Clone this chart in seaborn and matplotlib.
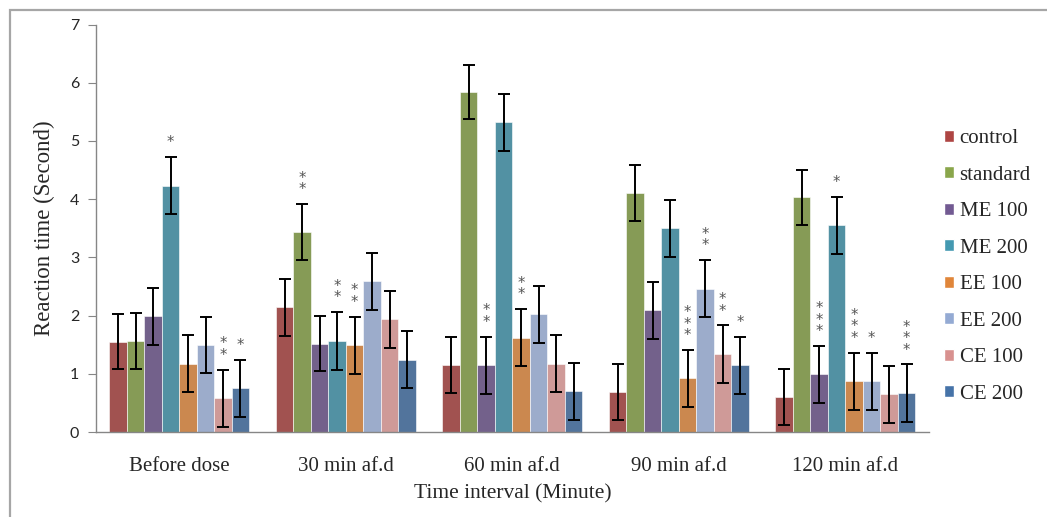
import numpy as np
import pandas as pd
import matplotlib
matplotlib.use("Agg")
import matplotlib.pyplot as plt
from matplotlib.patches import Patch, Rectangle
import seaborn as sns

# data
times = ["Before dose", "30 min af.d", "60 min af.d", "90 min af.d", "120 min af.d"]
groups = ["control", "standard", "ME 100", "ME 200", "EE 100", "EE 200", "CE 100", "CE 200"]

control = [1.55, 2.14, 1.15, 0.68, 0.60]
standard = [1.57, 3.43, 5.84, 4.10, 4.03]
me100 = [1.99, 1.52, 1.15, 2.09, 0.99]
me200 = [4.23, 1.56, 5.32, 3.50, 3.55]
ee100 = [1.17, 1.49, 1.62, 0.92, 0.87]
ee200 = [1.50, 2.59, 2.02, 2.46, 0.87]
ce100 = [0.58, 1.94, 1.17, 1.34, 0.65]
ce200 = [0.75, 1.24, 0.70, 1.15, 0.67]

# standard error (same for every bar, ~0.48 s)
sem = [
    [0.47, 0.49, 0.48, 0.48, 0.48],
    [0.48, 0.48, 0.46, 0.48, 0.47],
    [0.49, 0.48, 0.49, 0.49, 0.49],
    [0.49, 0.50, 0.49, 0.49, 0.49],
    [0.49, 0.49, 0.49, 0.49, 0.49],
    [0.48, 0.49, 0.49, 0.49, 0.49],
    [0.49, 0.49, 0.49, 0.49, 0.49],
    [0.49, 0.49, 0.49, 0.49, 0.49],
]

# significance marks per group, per time point
stars = [
    ["", "", "", "", ""],
    ["", "**", "", "", ""],
    ["", "", "**", "", "***"],
    ["*", "**", "", "", "*"],
    ["", "**", "**", "***", "***"],
    ["", "", "", "**", "*"],
    ["**", "", "", "**", ""],
    ["*", "", "", "*", "***"],
]

colors = ["#AE4543", "#8AA64B", "#725A92", "#4499B1", "#E0863A",
          "#94AAD3", "#D8918F", "#4673A8"]

series = [control, standard, me100, me200, ee100, ee200, ce100, ce200]
df = pd.DataFrame({
    "time": np.tile(times, len(groups)),
    "group": np.repeat(groups, len(times)),
    "value": np.concatenate(series),
})

sns.set_style("white")
plt.rcParams["font.family"] = ["Liberation Serif", "DejaVu Serif"]

fig = plt.figure(figsize=(10.47, 5.17), dpi=100)
ax = fig.add_axes([0.0917, 0.1644, 0.7953, 0.7882])

sns.barplot(data=df, x="time", y="value", hue="group", order=times,
            hue_order=groups, palette=colors, width=0.84, errorbar=None,
            edgecolor="white", linewidth=0.4, legend=False, ax=ax)

bar_sets = list(ax.containers)
for i, cont in enumerate(bar_sets):
    xs = [b.get_x() + b.get_width() / 2 for b in cont]
    hs = [b.get_height() for b in cont]
    ax.errorbar(xs, hs, yerr=sem[i], fmt="none", ecolor="black",
                elinewidth=1.4, capsize=4, capthick=1.4, zorder=5)
    for j, s in enumerate(stars[i]):
        if not s:
            continue
        top = hs[j] + sem[i][j]
        ax.annotate("\n".join(s), xy=(xs[j], top), xytext=(0, 5),
                    textcoords="offset points", ha="center", va="bottom",
                    fontsize=10.5, color="#555555", linespacing=0.7,
                    family="DejaVu Sans")

ax.set_ylim(0, 7)
ax.set_xlim(-0.5, 4.5)
ax.set_yticks(range(8))
ax.set_yticklabels([str(v) for v in range(8)], family="Lato", fontsize=11.5)
ax.set_xticks(range(len(times)))
ax.set_xticklabels(times, fontsize=15)
ax.set_xticks(np.arange(-0.5, 5, 1), minor=True)
ax.tick_params(axis="x", which="major", length=0, pad=18)
ax.tick_params(axis="x", which="minor", length=5, color="#868686", direction="out")
ax.tick_params(axis="y", length=6, color="#868686", direction="out", pad=6, left=True)

for side in ["top", "right"]:
    ax.spines[side].set_visible(False)
for side in ["left", "bottom"]:
    ax.spines[side].set_color("#868686")
    ax.spines[side].set_linewidth(1.0)

ax.set_xlabel("Time interval (Minute)", fontsize=15.5, labelpad=6)
ax.set_ylabel("Reaction time (Second)", fontsize=16.5, labelpad=11)

handles = [Patch(facecolor=c) for c in colors]
fig.legend(handles, groups, loc="center left", bbox_to_anchor=(944 / 1047, 0.485),
           frameon=False, handlelength=0.5, handleheight=0.5,
           handletextpad=0.25, labelspacing=0.84, borderpad=0,
           borderaxespad=0, prop={"size": 15})

fig.add_artist(Rectangle((10 / 1047, -0.1), 1.2, 1.1 - 10 / 517,
                         transform=fig.transFigure, fill=False,
                         edgecolor="#A6A6A6", linewidth=1.6))

plt.savefig("out.png", dpi=100)
